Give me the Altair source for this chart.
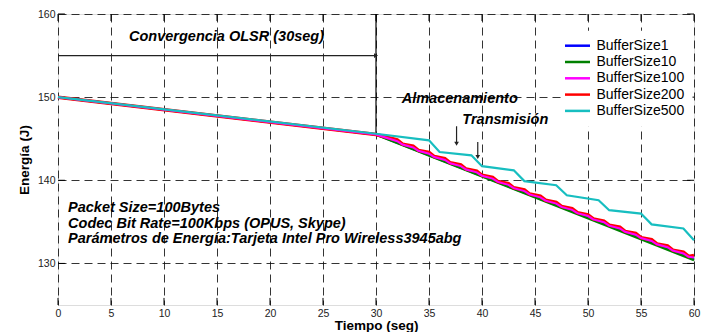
import altair as alt
import pandas as pd

FONT = "Liberation Sans"

series_names = ["BufferSize1", "BufferSize10", "BufferSize100", "BufferSize200", "BufferSize500"]
series_colors = ["#0000FF", "#008000", "#FF00FF", "#FF0000", "#17BEC0"]
series_widths = [2, 2.5, 2, 3.5, 2.2]

# BufferSize1
t1 = [0, 30, 60]
e1 = [150.0, 145.5, 130.5]
# BufferSize10
t10 = [0, 30, 60]
e10 = [150.0, 145.5, 130.4]
# BufferSize100
t100 = [0, 30, 32, 32.5, 33.5, 34, 35, 35.5, 36.5, 37, 38, 38.5, 39.5, 40, 41, 41.5, 42.5, 43,
        44, 44.5, 45.5, 46, 47, 47.5, 48.5, 49, 50, 50.5, 51.5, 52, 53, 53.5, 54.5, 55, 56, 56.5,
        57.5, 58, 59, 59.5, 60]
e100 = [150.0, 145.5, 144.7, 144.3, 143.95, 143.55, 143.2, 142.8, 142.45, 142.05, 141.7, 141.3,
        140.95, 140.55, 140.2, 139.8, 139.45, 139.05, 138.7, 138.3, 137.95, 137.55, 137.2, 136.8,
        136.45, 136.05, 135.7, 135.3, 134.95, 134.55, 134.2, 133.8, 133.45, 133.05, 132.7, 132.3,
        131.95, 131.55, 131.2, 130.8, 130.7]
# BufferSize200
t200 = [0, 30, 32, 32.5, 33.5, 34, 35, 35.5, 36.5, 37, 38, 38.5, 39.5, 40, 41, 41.5, 42.5, 43,
        44, 44.5, 45.5, 46, 47, 47.5, 48.5, 49, 50, 50.5, 51.5, 52, 53, 53.5, 54.5, 55, 56, 56.5,
        57.5, 58, 59, 59.5, 60]
e200 = [150.0, 145.5, 144.85, 144.35, 144.1, 143.6, 143.35, 142.85, 142.6, 142.1, 141.85, 141.35,
        141.1, 140.6, 140.35, 139.85, 139.6, 139.1, 138.85, 138.35, 138.1, 137.6, 137.35, 136.85,
        136.6, 136.1, 135.85, 135.35, 135.1, 134.6, 134.35, 133.85, 133.6, 133.1, 132.85, 132.35,
        132.1, 131.6, 131.35, 130.85, 130.95]
# BufferSize500
t500 = [0, 30, 35, 36, 39, 40, 43, 44, 47, 48, 51, 52, 55, 56, 59, 60]
e500 = [150.0, 145.6, 144.8, 143.4, 143.0, 141.7, 141.2, 139.9, 139.4, 138.2, 137.6, 136.4,
        136.0, 134.7, 134.2, 132.8]

all_t = [t1, t10, t100, t200, t500]
all_e = [e1, e10, e100, e200, e500]

x_ticks = [0, 5, 10, 15, 20, 25, 30, 35, 40, 45, 50, 55, 60]
y_ticks = [130, 140, 150, 160]

ann_text = ["Convergencia OLSR (30seg)", "Almacenamiento", "Transmisión",
            "Packet Size=100Bytes", "Codec Bit Rate=100Kbps (OPUS, Skype)",
            "Parámetros de Energía:Tarjeta Intel Pro Wireless3945abg"]
ann_x = [15.9, 37.9, 42.2, 0.95, 0.95, 0.95]
ann_y = [157.2, 149.8, 147.2, 136.7, 134.8, 132.9]
ann_align = ["center", "center", "center", "left", "left", "left"]

# arrows: (x, y_start, x_end, y_end)
arrow_x = [0, 37.6, 39.6]
arrow_x2 = [30, 37.6, 39.6]
arrow_y = [155, 146.5, 144.6]
arrow_y2 = [155, 144.4, 142.8]
arrow_shape = ["triangle-right", "triangle-down", "triangle-down"]

rows = []
for name, ts, es in zip(series_names, all_t, all_e):
    for t, e in zip(ts, es):
        rows.append({"serie": name, "t": t, "e": e})
df = pd.DataFrame(rows)

xscale = alt.Scale(domain=[0, 60], nice=False, zero=False)
yscale = alt.Scale(domain=[125, 160], nice=False, zero=False)
cscale = alt.Scale(domain=series_names, range=series_colors)

xaxis = alt.Axis(values=x_ticks, title="Tiempo (seg)", grid=True, gridDash=[8, 5],
                 gridColor="#111", gridOpacity=0.85, gridWidth=1, ticks=False, domain=False,
                 labelFont=FONT, labelFontSize=10.5, labelColor="#222", labelPadding=3,
                 titleFont=FONT, titleFontSize=13.5, titleFontWeight="bold", titlePadding=0,
                 labelFlush=False)
yaxis = alt.Axis(values=y_ticks, title="Energía (J)", grid=True, gridDash=[8, 5],
                 gridColor="#111", gridOpacity=0.85, gridWidth=1, ticks=False, domain=False,
                 labelFont=FONT, labelFontSize=10.5, labelColor="#222", labelPadding=3,
                 titleFont=FONT, titleFontSize=13.5, titleFontWeight="bold", titlePadding=6,
                 labelFlush=False)

layers = []
base = alt.Chart(df).mark_point(opacity=0).encode(
    x=alt.X("t:Q", scale=xscale, axis=xaxis),
    y=alt.Y("e:Q", scale=yscale, axis=yaxis),
)
layers.append(base)

# solid vertical at x=30
vline = alt.Chart(pd.DataFrame({"x": [30], "y": [160], "y2": [145.5]})).mark_rule(
    color="black", strokeWidth=1.2).encode(x=alt.X("x:Q", scale=xscale), y=alt.Y("y:Q", scale=yscale), y2="y2:Q")
layers.append(vline)

# inward ticks
tick_rows = []
for v in x_ticks:
    tick_rows.append({"x": v, "x2": v, "y": 125, "y2": 125.85})
    tick_rows.append({"x": v, "x2": v, "y": 160, "y2": 159.15})
for v in y_ticks:
    tick_rows.append({"x": 0, "x2": 0.65, "y": v, "y2": v})
    tick_rows.append({"x": 60, "x2": 59.35, "y": v, "y2": v})
ticks = alt.Chart(pd.DataFrame(tick_rows)).mark_rule(color="black", strokeWidth=1).encode(
    x=alt.X("x:Q", scale=xscale), x2="x2:Q", y=alt.Y("y:Q", scale=yscale), y2="y2:Q")
layers.append(ticks)

draw_order = [0, 1, 3, 2, 4]
for i in draw_order:
    name = series_names[i]
    legend = None
    if i == 0:
        legend = alt.Legend(title=None, orient="none", legendX=504.5, legendY=16.7,
                            symbolType="M-2.5,0H2.5", symbolSize=100, symbolStrokeWidth=2.5,
                            labelFont=FONT, labelFontSize=14, labelColor="black",
                            fillColor="white", padding=8, rowPadding=2.3, labelOffset=12,
                            values=series_names)
    layers.append(
        alt.Chart(df[df.serie == name]).mark_line(strokeWidth=series_widths[i], strokeJoin="miter").encode(
            x=alt.X("t:Q", scale=xscale),
            y=alt.Y("e:Q", scale=yscale),
            color=alt.Color("serie:N", scale=cscale, legend=legend),
        )
    )

arr_df = pd.DataFrame({"x": arrow_x, "x2": arrow_x2, "y": arrow_y, "y2": arrow_y2, "shape": arrow_shape})
arr_rules = alt.Chart(arr_df).mark_rule(color="#222", strokeWidth=1.2).encode(
    x=alt.X("x:Q", scale=xscale), x2="x2:Q", y=alt.Y("y:Q", scale=yscale), y2="y2:Q")
arr_heads = alt.Chart(arr_df).mark_point(filled=True, color="#222", size=22, opacity=1).encode(
    x=alt.X("x2:Q", scale=xscale), y=alt.Y("y2:Q", scale=yscale),
    shape=alt.Shape("shape:N", scale=None, legend=None))
layers += [arr_rules, arr_heads]

ann_df = pd.DataFrame({"text": ann_text, "x": ann_x, "y": ann_y, "align": ann_align})
for al in ["center", "left"]:
    layers.append(
        alt.Chart(ann_df[ann_df["align"] == al]).mark_text(
            font=FONT, fontSize=14.5, fontWeight="bold", fontStyle="italic", align=al,
            baseline="middle", color="black").encode(
            x=alt.X("x:Q", scale=xscale), y=alt.Y("y:Q", scale=yscale), text="text:N")
    )

chart = alt.layer(*layers).properties(
    width=636, height=291,
    autosize=alt.AutoSizeParams(type="none"),
    padding={"left": 50, "top": 6, "right": 7, "bottom": 30},
).configure_view(stroke="black", strokeWidth=1.5).configure(background="white")

chart.save("out.html", embed_options={"renderer": "svg", "actions": False})
